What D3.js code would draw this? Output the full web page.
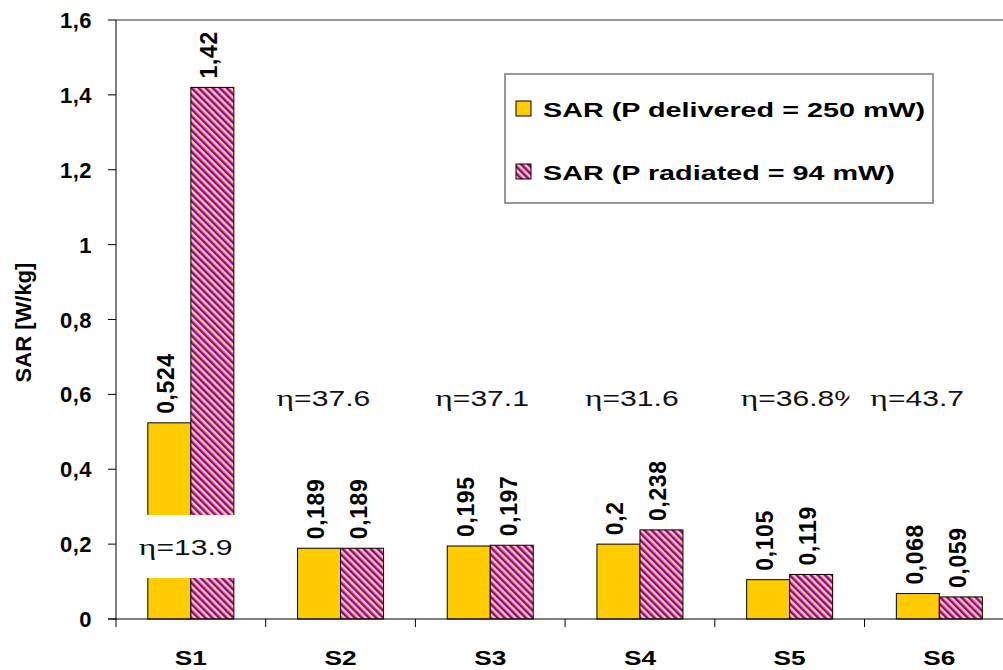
<!DOCTYPE html>
<html>
<head>
<meta charset="utf-8">
<script src="https://cdn.jsdelivr.net/npm/d3@7"></script>
<style>
  body { margin: 0; background: #fff; }
  svg { display: block; font-family: "Liberation Sans", Arial, sans-serif; }
</style>
</head>
<body>
<svg id="chart" width="1003" height="670"></svg>
<script>
const categories = ['S1', 'S2', 'S3', 'S4', 'S5', 'S6'];
const seriesNames = ['SAR (P delivered = 250 mW)', 'SAR (P radiated = 94 mW)'];
const delivered = [0.524, 0.189, 0.195, 0.2, 0.105, 0.068];
const radiated = [1.42, 0.189, 0.197, 0.238, 0.119, 0.059];
const etaLabels = ['13.9', '37.6', '37.1', '31.6', '36.8%', '43.7'];
const yTicks = [0, 0.2, 0.4, 0.6, 0.8, 1, 1.2, 1.4, 1.6];

// where the eta text boxes sit (shift from group centre, height in data units)
const etaShift = [-52, -64, -55, -55, -49, -69];
const etaLevel = [0.171, 0.568, 0.568, 0.568, 0.568, 0.568];

const svg = d3.select('#chart');
const left = 116;
const band = 149.7;
const barW = 43;
const yTop = 20;
const yBottom = 619;

const comma = d3.formatLocale({ decimal: ',', thousands: '.', grouping: [3], currency: ['', ''] });
const tickFmt = comma.format('.1~f');
const valFmt = comma.format('~g');

const x0 = d3.scaleBand().domain(categories).range([left, left + band * categories.length]);
const x1 = d3.scaleBand().domain([0, 1]).range([band / 2 - barW, band / 2 + barW]);
const y = d3.scaleLinear().domain([0, 1.6]).range([yBottom, yTop]);

const defs = svg.append('defs');
const pat = defs.append('pattern')
  .attr('id', 'hatch')
  .attr('patternUnits', 'userSpaceOnUse')
  .attr('width', 5)
  .attr('height', 5)
  .attr('patternTransform', 'rotate(-45)');
pat.append('rect').attr('width', 5).attr('height', 5).attr('fill', '#FFCC99');
pat.append('rect').attr('width', 2.5).attr('height', 5).attr('fill', '#990099');

const fills = ['#FFCC00', 'url(#hatch)'];

// top frame line
svg.append('line')
  .attr('x1', left).attr('x2', 1003)
  .attr('y1', y(1.6)).attr('y2', y(1.6))
  .attr('stroke', '#777').attr('stroke-width', 1.5);

const rows = categories.map((c, i) => ({ cat: c, vals: [delivered[i], radiated[i]] }));

const groups = svg.selectAll('g.grp')
  .data(rows)
  .enter()
  .append('g')
  .attr('class', 'grp')
  .attr('transform', d => 'translate(' + x0(d.cat) + ',0)');

groups.selectAll('rect')
  .data(d => d.vals.map((v, k) => ({ v: v, k: k })))
  .enter()
  .append('rect')
  .attr('x', d => x1(d.k))
  .attr('width', x1.bandwidth())
  .attr('y', d => y(d.v))
  .attr('height', d => y(0) - y(d.v))
  .attr('fill', d => fills[d.k])
  .attr('stroke', '#000')
  .attr('stroke-width', 1);

groups.selectAll('text.val')
  .data(d => d.vals.map((v, k) => ({ v: v, k: k })))
  .enter()
  .append('text')
  .attr('class', 'val')
  .attr('transform', d => 'translate(' + (x1(d.k) + barW / 2 + 5) + ',' + (y(d.v) - 9) + ') rotate(-90)')
  .attr('font-size', 23)
  .attr('font-weight', 'bold')
  .attr('letter-spacing', 0.6)
  .text(d => valFmt(d.v));

// eta annotations with white text boxes
categories.forEach((c, i) => {
  const cx = x0(c) + band / 2 + etaShift[i];
  const by = y(etaLevel[i]);
  const g = svg.append('g');
  const box = g.append('rect').attr('fill', '#fff');
  const t = g.append('text')
    .attr('transform', 'translate(' + cx + ',' + by + ') scale(1.4,1)')
    .attr('font-size', 21.5)
    .attr('fill', '#111');
  t.append('tspan').attr('font-family', '"Liberation Serif", serif').attr('font-size', 24).text('η');
  t.append('tspan').text('=' + etaLabels[i]);
  const w = t.node().getComputedTextLength() * 1.4;
  box.attr('x', cx - 21).attr('y', by - 40).attr('width', w + 32).attr('height', 63);
});

// y axis
const yAxis = svg.append('g');
yAxis.append('line')
  .attr('x1', left).attr('x2', left)
  .attr('y1', y(1.6)).attr('y2', y(0) + 8)
  .attr('stroke', '#000');
yAxis.selectAll('line.tick')
  .data(yTicks)
  .enter()
  .append('line')
  .attr('x1', left - 8).attr('x2', left)
  .attr('y1', d => y(d)).attr('y2', d => y(d))
  .attr('stroke', '#000');
yAxis.selectAll('text')
  .data(yTicks)
  .enter()
  .append('text')
  .attr('x', 92)
  .attr('y', d => y(d) + 8)
  .attr('text-anchor', 'end')
  .attr('font-size', 22)
  .attr('font-weight', 'bold')
  .attr('letter-spacing', 0.5)
  .text(d => tickFmt(d));

svg.append('text')
  .attr('transform', 'translate(31,' + ((yTop + yBottom) / 2 + 3) + ') rotate(-90)')
  .attr('text-anchor', 'middle')
  .attr('font-size', 22)
  .attr('font-weight', 'bold')
  .text('SAR [W/kg]');

// x axis
const xAxis = svg.append('g');
xAxis.append('line')
  .attr('x1', left - 8).attr('x2', 1003)
  .attr('y1', y(0)).attr('y2', y(0))
  .attr('stroke', '#000');
xAxis.selectAll('line.tick')
  .data(categories.slice(1))
  .enter()
  .append('line')
  .attr('x1', d => x0(d)).attr('x2', d => x0(d))
  .attr('y1', y(0)).attr('y2', y(0) + 8)
  .attr('stroke', '#000');
xAxis.selectAll('text')
  .data(categories)
  .enter()
  .append('text')
  .attr('transform', d => 'translate(' + (x0(d) + band / 2) + ',665) scale(1.25,1)')
  .attr('text-anchor', 'middle')
  .attr('font-size', 21)
  .attr('font-weight', 'bold')
  .text(d => d);

// legend
const legend = svg.append('g').attr('transform', 'translate(505,74)');
legend.append('rect')
  .attr('width', 428).attr('height', 129)
  .attr('fill', '#fff')
  .attr('stroke', '#777').attr('stroke-width', 1.5);
const items = legend.selectAll('g.item')
  .data(seriesNames)
  .enter()
  .append('g')
  .attr('class', 'item')
  .attr('transform', (d, i) => 'translate(0,' + (27 + i * 63) + ')');
items.append('rect')
  .attr('x', 11).attr('width', 15).attr('height', 15)
  .attr('fill', (d, i) => fills[i])
  .attr('stroke', '#000');
items.append('text')
  .attr('transform', 'translate(38,16) scale(1.37,1)')
  .attr('font-size', 21)
  .attr('font-weight', 'bold')
  .text(d => d);
</script>
</body>
</html>
